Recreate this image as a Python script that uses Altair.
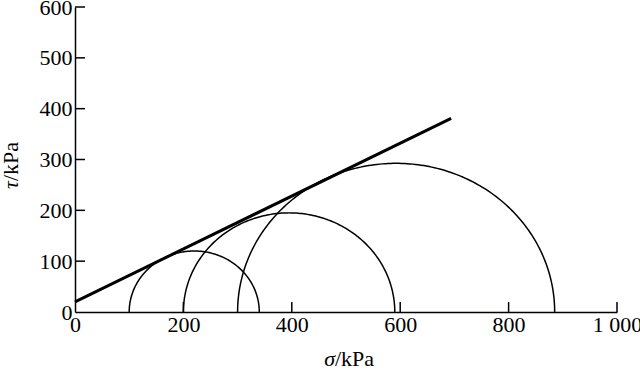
import numpy as np
import pandas as pd
import altair as alt

# Mohr circles: minor and major principal stresses (kPa)
sigma3 = [100, 200, 300]
sigma1 = [340, 590, 885]
# Strength envelope end points
env_sigma = [0, 694]
env_tau = [20, 381]
x_ticks = [200, 400, 600, 800, 1000]
y_ticks = [100, 200, 300, 400, 500, 600]

rows = []
ang = np.linspace(0, np.pi, 181)
for i, (s3, s1) in enumerate(zip(sigma3, sigma1)):
    c = (s1 + s3) / 2
    r = (s1 - s3) / 2
    for k, a in enumerate(ang):
        rows.append({"circle": i, "k": k, "sigma": c - r * np.cos(a), "tau": r * np.sin(a)})
circ = pd.DataFrame(rows)
env = pd.DataFrame({"sigma": env_sigma, "tau": env_tau})

W, H = 542, 305
FONT = "Liberation Serif"
FS = 22

xs = alt.Scale(domain=[0, 1000], nice=False, zero=False)
ys = alt.Scale(domain=[0, 600], nice=False, zero=False)

xaxis = alt.Axis(values=[0, 200, 400, 600, 800, 1000], tickSize=0, grid=False,
                 labelExpr="datum.value == 1000 ? '1 000' : datum.label",
                 labelFlush=False, labelOverlap=False,
                 labelFont=FONT, labelFontSize=FS, labelColor="black", labelPadding=2,
                 domainColor="black", domainWidth=1.5, title=None)
yaxis = alt.Axis(values=[0, 100, 200, 300, 400, 500, 600], tickSize=0, grid=False,
                 labelFlush=False, labelOverlap=False,
                 labelFont=FONT, labelFontSize=FS, labelColor="black", labelPadding=3,
                 domainColor="black", domainWidth=1.5, title=None)

circles = alt.Chart(circ).mark_line(color="black", strokeWidth=1.5).encode(
    x=alt.X("sigma:Q", scale=xs, axis=xaxis),
    y=alt.Y("tau:Q", scale=ys, axis=yaxis),
    detail="circle:N",
    order="k:Q",
)
envelope = alt.Chart(env).mark_line(color="black", strokeWidth=3).encode(
    x=alt.X("sigma:Q", scale=xs), y=alt.Y("tau:Q", scale=ys)
)
xt = alt.Chart(pd.DataFrame({"v": x_ticks})).mark_rule(color="black", strokeWidth=1.5).encode(
    x=alt.X("v:Q", scale=xs), y=alt.value(H), y2=alt.value(H - 10)
)
yt = alt.Chart(pd.DataFrame({"v": y_ticks})).mark_rule(color="black", strokeWidth=1.5).encode(
    y=alt.Y("v:Q", scale=ys), x=alt.value(0), x2=alt.value(10)
)

one = pd.DataFrame({"a": [0]})
def txt(s, x, y, align, italic=False, angle=0):
    kw = dict(font=FONT, fontSize=FS, color="black", align=align, baseline="alphabetic",
              fontStyle="italic" if italic else "normal", text=s)
    if angle:
        kw["angle"] = angle
    return alt.Chart(one).mark_text(**kw).encode(x=alt.value(x), y=alt.value(y))

XS = 260   # split point of x title, plot coords
titles = [
    txt("σ", XS, 359, "right", italic=True),
    txt("/kPa", XS, 359, "left"),
    txt("τ", -57, 174, "right", italic=True, angle=270),
    txt("/kPa", -57, 174, "left", angle=270),
]

chart = alt.layer(circles, envelope, xt, yt, *titles).properties(
    width=W, height=H,
    background="white",
    autosize=alt.AutoSizeParams(type="none"),
    padding={"left": 75, "top": 7, "right": 23, "bottom": 59},
).configure_view(stroke=None)

chart.save("out.html", embed_options={"renderer": "svg", "actions": False})
